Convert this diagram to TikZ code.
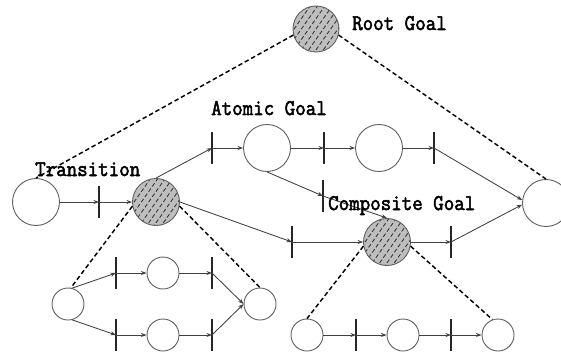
\documentclass[tikz,border=0pt]{standalone}
\usepackage{fontspec}
\newfontfamily\lblfont{Latin Modern Mono}[FakeBold=2.4]
\usetikzlibrary{arrows.meta,calc}
\definecolor{circ}{HTML}{606060}
\definecolor{hatchfill}{HTML}{BEBEBE}
\tikzset{
  place/.style={circle,draw=circ,line width=0.9pt,inner sep=0pt,minimum size=47pt,fill=white},
  smallplace/.style={place,minimum size=32pt},
  hatched/.style={fill=hatchfill,path picture={
        \foreach \k in {-5,...,5}
          \draw[line width=0.85pt,draw=black!80,dash pattern=on 4pt off 2.4pt,dash phase=\k*2.1pt]
            ($(path picture bounding box.center)+({4.9pt*\k-18.4pt},{-3.44pt*\k-26.2pt})$) --
            ($(path picture bounding box.center)+({4.9pt*\k+18.4pt},{-3.44pt*\k+26.2pt})$);
      }},
  barnode/.style={inner sep=0pt,minimum width=0pt,minimum height=31pt},
  barline/.style={line width=1.1pt,draw=black!85},
  flow/.style={draw=black!75,line width=0.85pt,-{Stealth[length=5.5pt,width=4pt]}},
  refine/.style={draw=black,line width=1.45pt,dash pattern=on 4.5pt off 2.8pt},
  label/.style={inner sep=0pt,anchor=base west,font=\lblfont\fontsize{20.4}{21}\selectfont}
}
\newcommand{\tall}[1]{\scalebox{1}[1.1]{#1}}
\begin{document}
\begin{tikzpicture}[x=1pt,y=-1pt]
\useasboundingbox (0,0) rectangle (561,358);
\clip (0,0) rectangle (561,358);
\fill[white] (0,0) rectangle (561,358);
% places
\node[place,hatched,minimum size=46pt] (root) at (316,29) {};
\node[place] (L0) at (36,202) {};
\node[place,hatched] (T) at (156,202) {};
\node[place] (A1) at (267,148) {};
\node[place] (A2) at (379,148) {};
\node[place] (R) at (546,203) {};
\node[place,hatched] (C) at (387,242) {};
\node[smallplace] (B0) at (68,304) {};
\node[smallplace] (B1) at (163,273) {};
\node[smallplace] (B2) at (163,335) {};
\node[smallplace] (B3) at (260,304) {};
\node[smallplace] (D0) at (307,335) {};
\node[smallplace] (D1) at (403,335) {};
\node[smallplace] (D2) at (498,335) {};
% transitions
\node[barnode] (t1) at (99,202) {};
\node[barnode] (t2) at (212,148) {};
\node[barnode] (t3) at (324,148) {};
\node[barnode] (t4) at (434,148) {};
\node[barnode] (t5) at (323,196) {};
\node[barnode] (t6) at (292,242) {};
\node[barnode] (t7) at (451,242) {};
\node[barnode] (tb1) at (116,273) {};
\node[barnode] (tb2) at (212,273) {};
\node[barnode] (tb3) at (116,335) {};
\node[barnode] (tb4) at (212,335) {};
\node[barnode] (td1) at (356,335) {};
\node[barnode] (td2) at (451,335) {};
\foreach \b in {t1,t2,t3,t4,t5,t6,t7,tb1,tb2,tb3,tb4,td1,td2}
  \draw[barline] (\b.north) -- (\b.south);
% refinement (dashed) links
\draw[refine] (root.195) -- (L0.north);
\draw[refine] (root.-15) -- (R.north);
\draw[refine] (T.190) -- (B0.80);
\draw[refine] (T.-10) -- (B3.north);
\draw[refine] (C.190) -- (D0.north);
\draw[refine] (C.-10) -- (D2.110);
% flows
\draw[flow] (L0.east) -- (t1.center);
\draw[flow] (t1.center) -- (T.west);
\draw[flow] (T.north) -- (t2.center);
\draw[flow] (t2.center) -- (A1.west);
\draw[flow] (A1.east) -- (t3.center);
\draw[flow] (t3.center) -- (A2.west);
\draw[flow] (A2.east) -- (t4.center);
\draw[flow] (t4.center) -- (R.173);
\draw[flow] (A1.south) -- (t5.center);
\draw[flow] (t5.center) -- (C.north);
\draw[flow] (T.east) -- (t6.center);
\draw[flow] (t6.center) -- (C.west);
\draw[flow] (C.east) -- (t7.center);
\draw[flow] (t7.center) -- (R.184);
\draw[flow] (B0.75) -- (tb1.center);
\draw[flow] (tb1.center) -- (B1.west);
\draw[flow] (B1.east) -- (tb2.center);
\draw[flow] (tb2.center) -- (B3.west);
\draw[flow] (B0.-75) -- (tb3.center);
\draw[flow] (tb3.center) -- (B2.west);
\draw[flow] (B2.east) -- (tb4.center);
\draw[flow] (tb4.center) -- (B3.west);
\draw[flow] (D0.east) -- (td1.center);
\draw[flow] (td1.center) -- (D1.west);
\draw[flow] (D1.east) -- (td2.center);
\draw[flow] (td2.center) -- (D2.west);
% labels
\node[label] (lroot) at (352,30) {\tall{Root Goal}};
\node[label] (latomic) at (211,115) {\tall{Atomic Goal}};
\node[label] (ltrans) at (35,176) {\tall{Transition}};
\node[label] (lcomp) at (328,210) {\tall{Composite Goal}};
\end{tikzpicture}
\end{document}
